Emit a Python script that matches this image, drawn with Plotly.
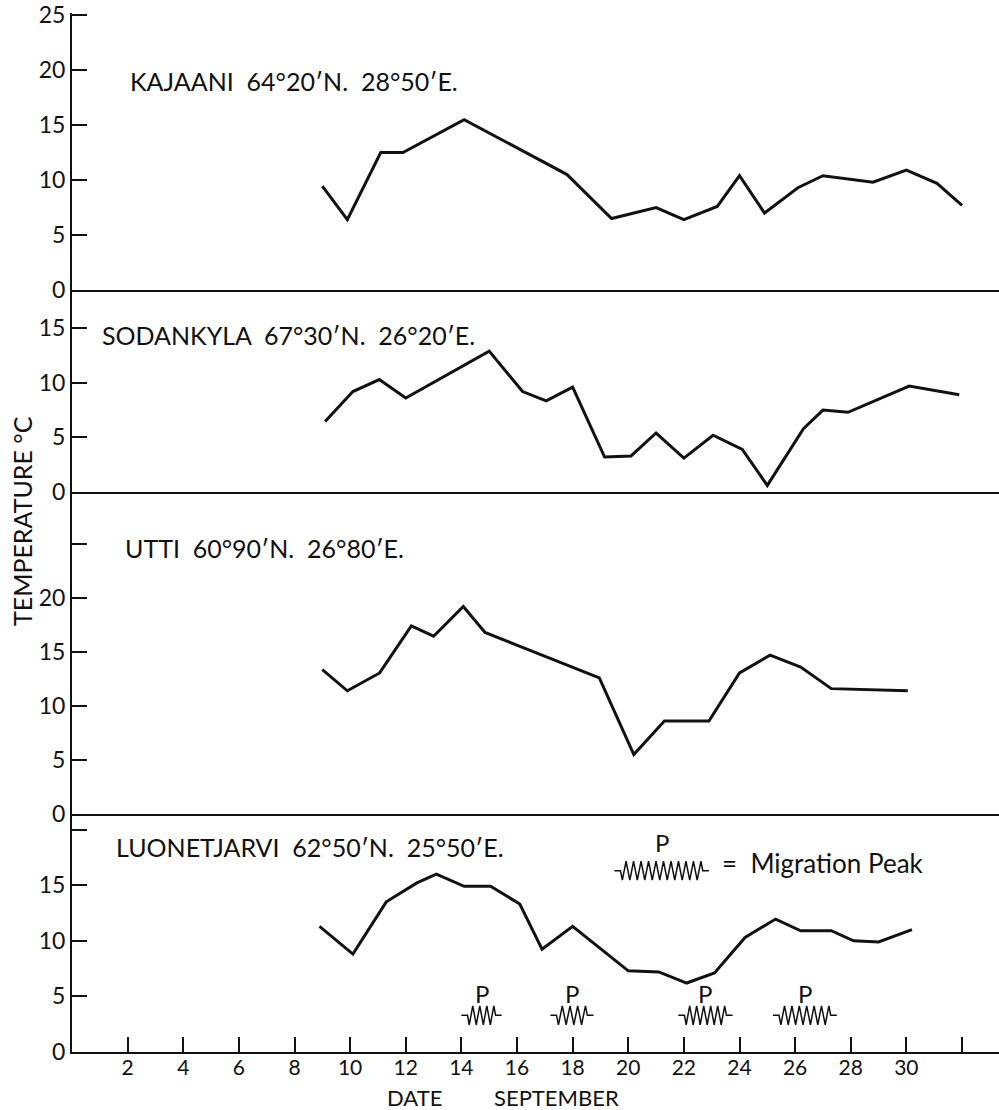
import numpy as np
import plotly.graph_objects as go

# ---------------- data ----------------
kajaani_x = [9.0, 9.9, 11.1, 11.9, 14.1, 17.8, 19.4, 21.0, 22.0, 23.2, 24.0, 24.9, 26.1, 27.0, 28.8, 30.0, 31.1, 32.0]
kajaani_y = [9.45, 6.4, 12.5, 12.5, 15.5, 10.5, 6.5, 7.5, 6.4, 7.6, 10.4, 7.0, 9.3, 10.4, 9.8, 10.9, 9.7, 7.7]

sodankyla_x = [9.1, 10.1, 11.05, 12.0, 15.0, 16.2, 17.05, 18.0, 19.15, 20.1, 21.0, 22.0, 23.05, 24.1, 25.0, 26.3, 27.0, 27.9, 30.1, 31.9]
sodankyla_y = [6.45, 9.2, 10.3, 8.6, 12.9, 9.2, 8.35, 9.6, 3.2, 3.3, 5.4, 3.1, 5.2, 3.9, 0.6, 5.8, 7.5, 7.3, 9.7, 8.9]

utti_x = [9.0, 9.9, 11.06, 12.2, 13.0, 14.07, 14.85, 18.96, 20.2, 21.3, 22.9, 24.0, 25.1, 26.2, 27.3, 30.05]
utti_y = [13.35, 11.4, 13.05, 17.4, 16.45, 19.2, 16.8, 12.6, 5.5, 8.6, 8.6, 13.05, 14.7, 13.6, 11.6, 11.4]

luonet_x = [8.9, 10.1, 11.3, 12.4, 13.1, 14.1, 15.05, 16.1, 16.9, 18.0, 20.0, 21.1, 22.1, 23.1, 24.2, 25.3, 26.2, 27.3, 28.1, 29.0, 30.2]
luonet_y = [11.3, 8.8, 13.5, 15.2, 16.0, 14.9, 14.9, 13.3, 9.25, 11.3, 7.3, 7.2, 6.2, 7.1, 10.3, 11.95, 10.9, 10.9, 10.0, 9.9, 11.0]

station_labels = [
    "KAJAANI  64°20′N.  28°50′E.",
    "SODANKYLA  67°30′N.  26°20′E.",
    "UTTI  60°90′N.  26°80′E.",
    "LUONETJARVI  62°50′N.  25°50′E.",
]

# migration peaks (start day, end day) on the Luonetjarvi panel
peak_start = [14.0, 17.2, 21.8, 25.2]
peak_end = [15.45, 18.75, 23.75, 27.5]
peak_level = 3.3
legend_start, legend_end, legend_level = 19.5, 22.9, 16.3

x_tickvals = list(range(2, 33, 2))
x_ticktext = [str(v) if v <= 30 else "" for v in x_tickvals]

# ---------------- figure ----------------
FONT = "Lato"
INK = "#111111"

fig = go.Figure()

series = [(kajaani_x, kajaani_y), (sodankyla_x, sodankyla_y), (utti_x, utti_y), (luonet_x, luonet_y)]
for i, (xs, ys) in enumerate(series):
    n = i + 1
    fig.add_trace(go.Scatter(x=xs, y=ys, mode="lines", xaxis=f"x{n}", yaxis=f"y{n}",
                             line=dict(color=INK, width=3), showlegend=False, hoverinfo="skip"))


def zigzag(x0, x1, yc, amp=0.85, period=0.27, lead=0.22):
    xs = [x0, x0 + lead]
    ys = [yc, yc]
    inner = x1 - x0 - 2 * lead
    n = max(1, int(round(inner / (period / 2))))
    if n % 2 == 1:
        n += 1
    step = inner / n
    for k in range(n):
        xs.append(x0 + lead + (k + 0.5) * step)
        ys.append(yc + (amp if k % 2 == 1 else -amp))
    xs += [x1 - lead, x1]
    ys += [yc, yc]
    return xs, ys


for s, e in zip(peak_start + [legend_start], peak_end + [legend_end]):
    lvl = legend_level if s == legend_start else peak_level
    zx, zy = zigzag(s, e, lvl)
    fig.add_trace(go.Scatter(x=zx, y=zy, mode="lines", xaxis="x4", yaxis="y4",
                             line=dict(color=INK, width=1.5), showlegend=False, hoverinfo="skip"))

annotations = []
for s, e in zip(peak_start, peak_end):
    annotations.append(dict(x=(s + e) / 2, y=peak_level + 2.0, xref="x4", yref="y4", text="P",
                            showarrow=False, font=dict(size=24, color=INK, family=FONT)))
annotations.append(dict(x=(legend_start + legend_end) / 2, y=legend_level + 2.5, xref="x4", yref="y4",
                        text="P", showarrow=False, font=dict(size=24, color=INK, family=FONT)))
annotations.append(dict(x=23.3, y=17.0, xref="x4", yref="y4", text="=  Migration Peak", xanchor="left",
                        showarrow=False, font=dict(size=26, color=INK, family=FONT)))

label_pos = [(2.0, 19.0), (1.0, 14.4), (1.85, 24.6), (1.5, 18.4)]
for i, (lbl, (lx, ly)) in enumerate(zip(station_labels, label_pos)):
    annotations.append(dict(x=lx, y=ly, xref=f"x{i+1}", yref=f"y{i+1}", text=lbl, xanchor="left",
                            showarrow=False, font=dict(size=25, color=INK, family=FONT)))

# axis titles
annotations.append(dict(x=-0.054, y=0.511, xref="paper", yref="paper", text="TEMPERATURE °C",
                        textangle=-90, xanchor="center", yanchor="middle", showarrow=False,
                        font=dict(size=25, color=INK, family=FONT)))
annotations.append(dict(x=0.370, y=-0.0435, xref="paper", yref="paper", text="DATE",
                        xanchor="center", yanchor="middle", borderpad=0,
                        showarrow=False, font=dict(size=22, color=INK, family=FONT)))
annotations.append(dict(x=0.523, y=-0.0435, xref="paper", yref="paper", text="SEPTEMBER",
                        xanchor="center", yanchor="middle", borderpad=0,
                        showarrow=False, font=dict(size=22, color=INK, family=FONT)))

domains = [[0.7334, 1.0], [0.5390, 0.7334], [0.2291, 0.5390], [0.0, 0.2291]]
ranges = [[0, 25.2], [0, 18.5], [0, 29.8], [0, 21.4]]
ytickvals = [[0, 5, 10, 15, 20, 25], [0, 5, 10, 15], [0, 5, 10, 15, 20, 25], [0, 5, 10, 15, 20]]
yticktext = [["0", "5", "10", "15", "20", "25"], ["0", "5", "10", "15"],
             ["0", "5", "10", "15", "20", ""], ["0", "5", "10", "15", ""]]

layout = dict(
    width=999, height=1110,
    margin=dict(l=72, r=0, t=13, b=58),
    paper_bgcolor="white", plot_bgcolor="white",
    font=dict(family=FONT, color=INK, size=21),
    showlegend=False,
    annotations=annotations,
)
for i in range(4):
    n = i + 1
    ykey = "yaxis" if n == 1 else f"yaxis{n}"
    xkey = "xaxis" if n == 1 else f"xaxis{n}"
    layout[ykey] = dict(domain=domains[i], range=ranges[i], anchor=f"x{n}",
                        showline=True, linecolor=INK, linewidth=2, showgrid=False, zeroline=False,
                        ticks="inside", ticklen=15, tickwidth=1.5, tickcolor=INK,
                        tickvals=ytickvals[i], ticktext=yticktext[i],
                        tickfont=dict(size=23, family=FONT, color=INK), fixedrange=True)
    xa = dict(range=[0, 33.33], anchor=f"y{n}", showline=True, linecolor=INK, linewidth=2,
              showgrid=False, zeroline=False, fixedrange=True)
    if n == 4:
        xa.update(ticks="inside", ticklen=15, tickwidth=1.5, tickcolor=INK,
                  tickvals=x_tickvals, ticktext=x_ticktext, ticklabelstandoff=-4,
                  tickfont=dict(size=21, family=FONT, color=INK))
    else:
        xa.update(matches="x4", showticklabels=False, ticks="")
    layout[xkey] = xa

fig.update_layout(**layout)
fig.write_html("out.html")
